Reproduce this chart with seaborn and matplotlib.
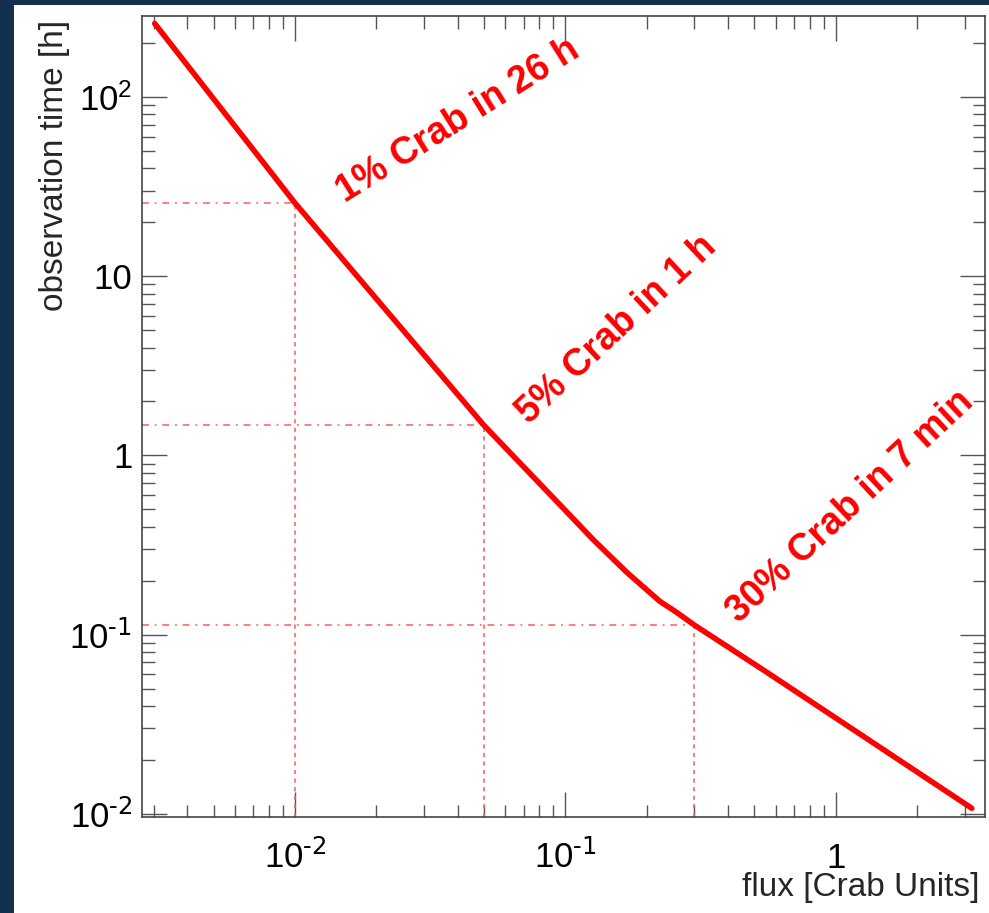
import matplotlib
matplotlib.use("Agg")
import matplotlib.pyplot as plt
from matplotlib.patches import Rectangle
import seaborn as sns

# Sensitivity curve: observation time needed vs. source flux
flux = [0.00303, 0.0100, 0.0500, 0.0899, 0.1264,
        0.169, 0.2234, 0.258, 0.300, 0.556, 3.18]
obs_time = [257, 25.6, 1.47, 0.583, 0.340,
            0.222, 0.1534, 0.133, 0.113, 0.0616, 0.01075]

# Reference points marked with guide lines
mark_flux = [0.01, 0.05, 0.30]
mark_time = [25.6, 1.47, 0.113]
mark_text = ["1% Crab in 26 h", "5% Crab in 1 h", "30% Crab in 7 min"]

x_ticks = [0.01, 0.1, 1]
x_tick_labels = [r"10$^{\text{-2}}$", r"10$^{\text{-1}}$", "1"]
y_ticks = [0.01, 0.1, 1, 10, 100]
y_tick_labels = [r"10$^{\text{-2}}$", r"10$^{\text{-1}}$", "1", "10", "10$^{2}$"]

sns.set_style("ticks")
plt.rcParams["font.family"] = ["Liberation Sans", "DejaVu Sans"]
plt.rcParams["mathtext.default"] = "regular"

navy = "#14304f"
fig = plt.figure(figsize=(9.89, 9.13), dpi=100, facecolor=navy)
fig.add_artist(Rectangle((14 / 989, 0), 1 - 14 / 989, 908 / 913,
                         transform=fig.transFigure, facecolor="white",
                         edgecolor="none", zorder=-10))

ax = fig.add_axes([0.1436, 0.1051, 0.8524, 0.8774])
ax.set_xscale("log")
ax.set_yscale("log")
xlim = (0.00272, 3.56)
ylim = (0.0096, 283)
ax.set_xlim(*xlim)
ax.set_ylim(*ylim)

guide_color = "#ff5a5a"
for fx, ft in zip(mark_flux, mark_time):
    ax.plot([xlim[0], fx], [ft, ft], color=guide_color, lw=1.1,
            linestyle=(0, (4.5, 3.8, 1.2, 3.8)), zorder=2)
    ax.plot([fx, fx], [ylim[0], ft], color=guide_color, lw=1.1,
            linestyle=(0, (2.8, 2.8)), zorder=2)

sns.lineplot(x=flux, y=obs_time, ax=ax, color="#ff0000", lw=4.0,
             sort=False, estimator=None, zorder=3)

# Annotations along the curve
label_pos = [(0.375, 0.870, 32), (0.563, 0.608, 43), (0.840, 0.387, 43)]
for txt, (px, py, rot) in zip(mark_text, label_pos):
    ax.text(px, py, txt, transform=ax.transAxes, rotation=rot,
            rotation_mode="anchor", ha="center", va="center",
            color="#ff0000", fontsize=27, fontweight="bold", zorder=4)

ax.set_xticks(x_ticks, x_tick_labels)
ax.set_yticks(y_ticks, y_tick_labels)

spine_color = "#444444"
for s in ax.spines.values():
    s.set_color(spine_color)
    s.set_linewidth(1.2)
ax.tick_params(which="both", direction="in", top=True, right=True,
               color="#555555", width=1.0, labelsize=25, labelcolor="black")
ax.tick_params(which="major", length=18)
ax.tick_params(which="minor", length=9)
ax.tick_params(axis="y", which="major", pad=7)
ax.tick_params(axis="x", which="major", pad=37)
for t in ax.get_xticklabels():
    t.set_va("baseline")

ax.set_xlabel("flux [Crab Units]", fontsize=24, ha="right")
ax.xaxis.set_label_coords(0.994, -0.0687)
ax.set_ylabel("observation time [h]", fontsize=24, ha="right")
ax.yaxis.set_label_coords(-0.085, 0.995)

fig.savefig("out.png", dpi=100, facecolor=navy)
